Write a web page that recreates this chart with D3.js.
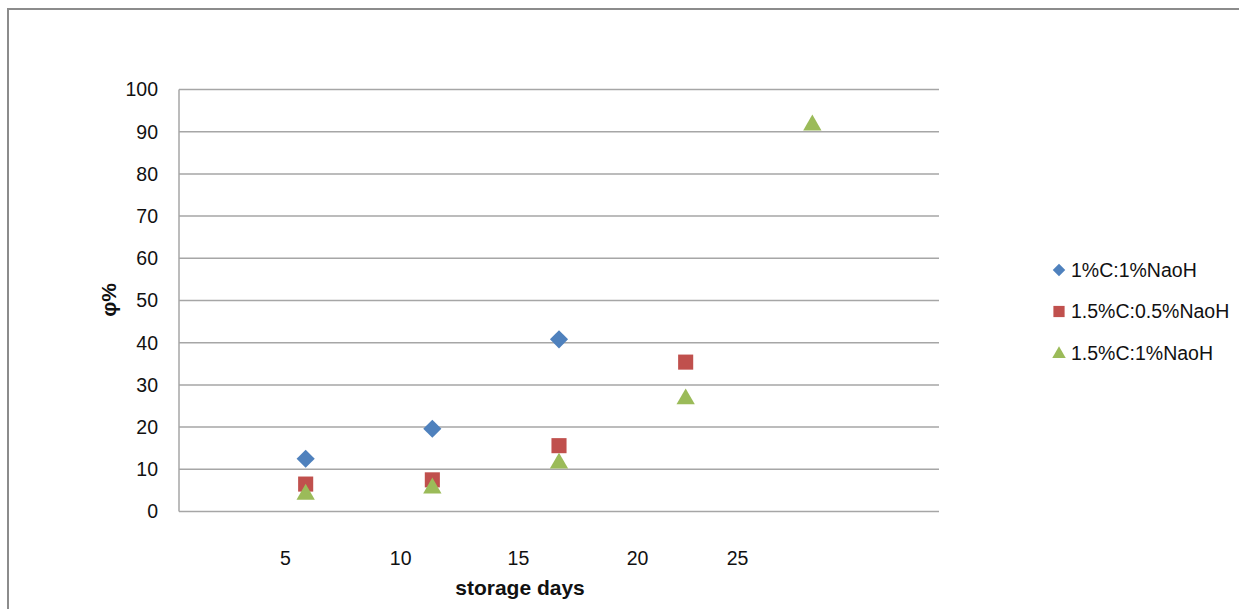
<!DOCTYPE html>
<html><head><meta charset="utf-8">
<script src="https://cdn.jsdelivr.net/npm/d3@7"></script>
<style>body{margin:0;background:#fff}svg{display:block}</style>
</head><body>
<svg id="c" width="1239" height="609"></svg>
<script>
const days = [5, 10, 15, 20, 25];
const series1 = [12.5, 19.6, 40.8, null, null];      // 1%C:1%NaoH
const series2 = [6.5, 7.5, 15.6, 35.4, null];        // 1.5%C:0.5%NaoH
const series3 = [4.4, 5.9, 11.8, 27.0, 91.9];        // 1.5%C:1%NaoH
const seriesNames = ["1%C:1%NaoH", "1.5%C:0.5%NaoH", "1.5%C:1%NaoH"];
const yTicks = [0, 10, 20, 30, 40, 50, 60, 70, 80, 90, 100];
const xTickLabels = ["5", "10", "15", "20", "25"];
const xTickLabelAt = [4.2, 8.75, 13.4, 18.1, 22.05];

const colors = ["#4F81BD", "#C0504D", "#9BBB59"];
const shapes = [d3.symbolDiamond2, d3.symbolSquare2, d3.symbolTriangle2];
const font = "'Liberation Sans', Arial, sans-serif";

const svg = d3.select("#c");
const x = d3.scaleLinear().domain([0, 30]).range([179, 939]);
const y = d3.scaleLinear().domain([0, 100]).range([511.5, 89.5]);

// outer border
svg.append("rect").attr("x", 8).attr("y", 9).attr("width", 1250).attr("height", 620)
  .attr("fill", "none").attr("stroke", "#8c8c8c").attr("stroke-width", 2);

// gridlines
svg.append("g").selectAll("line").data(yTicks).join("line")
  .attr("x1", x(0)).attr("x2", x(30))
  .attr("y1", d => y(d)).attr("y2", d => y(d))
  .attr("stroke", "#a6a6a6").attr("stroke-width", 1.5);
// y axis line
svg.append("line").attr("x1", x(0)).attr("x2", x(0)).attr("y1", y(100)).attr("y2", y(0))
  .attr("stroke", "#a6a6a6").attr("stroke-width", 1.5);

// y tick labels
svg.append("g").selectAll("text").data(yTicks).join("text")
  .attr("x", 158).attr("y", d => y(d)).attr("dy", "0.35em")
  .attr("text-anchor", "end").attr("font-family", font).attr("font-size", 19.5)
  .attr("fill", "#111").text(d => d);

// x tick labels
svg.append("g").selectAll("text").data(xTickLabels).join("text")
  .attr("x", (d, i) => x(xTickLabelAt[i])).attr("y", 558).attr("dy", "0.35em")
  .attr("text-anchor", "middle").attr("font-family", font).attr("font-size", 19.5)
  .attr("fill", "#111").text(d => d);

// axis titles
svg.append("text").attr("x", 520).attr("y", 588).attr("dy", "0.35em")
  .attr("text-anchor", "middle").attr("font-family", font).attr("font-size", 21)
  .attr("font-weight", "bold").attr("fill", "#111").text("storage days");
svg.append("text").attr("transform", "translate(109,300) rotate(-90)").attr("dy", "0.35em")
  .attr("text-anchor", "middle").attr("font-family", font).attr("font-size", 21)
  .attr("font-weight", "bold").attr("fill", "#111").text("φ%");

// points
const allSeries = [series1, series2, series3];
const sizes = [210, 290, 240];
allSeries.forEach((s, k) => {
  const pts = days.map((d, i) => ({d, v: s[i]})).filter(p => p.v != null);
  svg.append("g").selectAll("path").data(pts).join("path")
    .attr("transform", p => `translate(${x(p.d)},${y(p.v) + (k === 2 ? 1.5 : 0)})`)
    .attr("d", d3.symbol().type(shapes[k]).size(sizes[k]))
    .attr("fill", colors[k]);
});

// legend
const legY = [270, 311.5, 353];
const legSizes = [100, 160, 130];
const leg = svg.append("g");
seriesNames.forEach((n, k) => {
  leg.append("path").attr("transform", `translate(1059,${legY[k] + (k === 2 ? 1 : 0)})`)
    .attr("d", d3.symbol().type(shapes[k]).size(legSizes[k])).attr("fill", colors[k]);
  leg.append("text").attr("x", 1071).attr("y", legY[k]).attr("dy", "0.35em")
    .attr("font-family", font).attr("font-size", 19.5).attr("fill", "#111").text(n);
});
</script>
</body></html>
